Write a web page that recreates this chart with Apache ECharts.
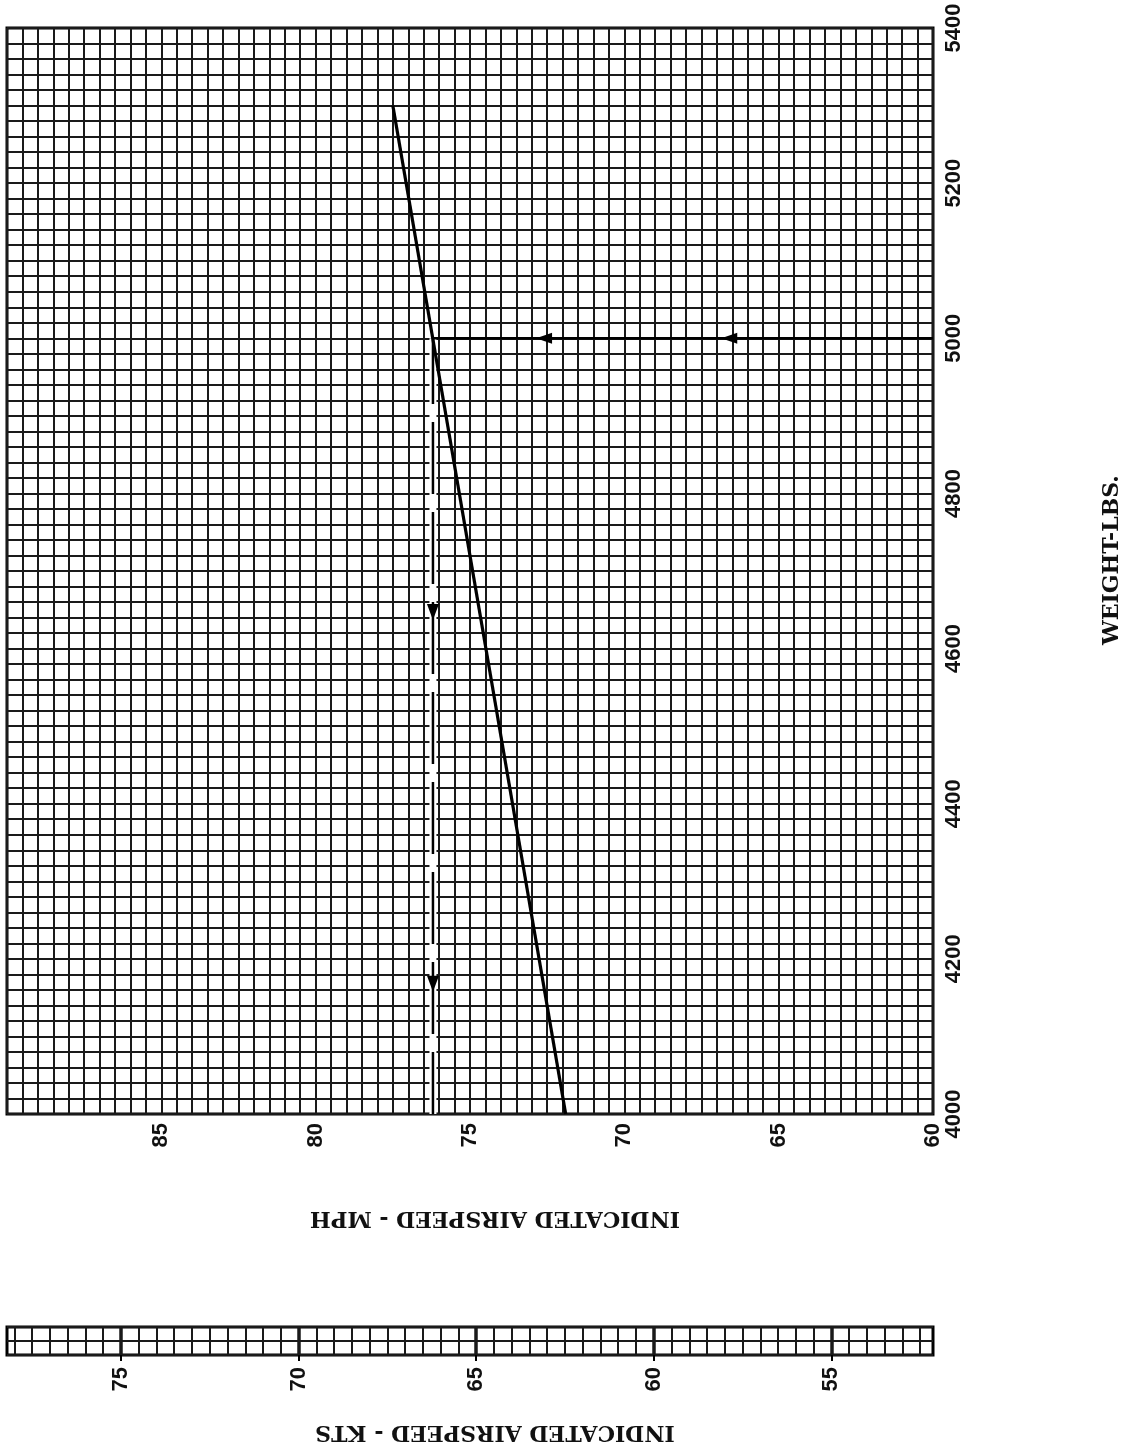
<!DOCTYPE html>
<html>
<head>
<meta charset="utf-8">
<script src="https://cdn.jsdelivr.net/npm/echarts@6/dist/echarts.min.js"></script>
<style>
  html, body { margin: 0; padding: 0; background: #fff; }
  #chart { width: 1129px; height: 1455px; }
</style>
</head>
<body>
<div id="chart"></div>
<script>
// 坐标范围
const mphRange = [60, 90];
const weightRange = [4000, 5400];
const MPH_PER_KT = 1.15078;

// 性能曲线 (weight lbs -> indicated airspeed mph)
const curveWeight = [4000, 5300];
const curveMph = [71.9, 77.5];

// 示例路径
const exampleWeight = 5000;
const exampleMph = 76.2;
const leftArrowMph = [66.6, 72.6];
const downArrowWeight = [4647, 4168];

// KTS 副刻度
const ktsLabels = [55, 60, 65, 70, 75];
const ktsMajor = [55, 60, 65, 70, 75];

const ktsMin = mphRange[0] / MPH_PER_KT;
const ktsMax = mphRange[1] / MPH_PER_KT;
const ktsCells = [];
for (let k = Math.ceil(ktsMin * 2) / 2; k < ktsMax; k += 0.5) ktsCells.push(k);

const numFont = { fontFamily: 'Liberation Sans', fontWeight: 'bold', fontSize: 22, color: '#111' };
const titleFont = 'bold 22px "DejaVu Serif"';
const gridLine = { color: '#1a1a1a', width: 2 };

const chart = echarts.init(document.getElementById('chart'));

chart.setOption({
  animation: false,
  backgroundColor: '#fff',
  grid: [
    { left: 7, right: 196, top: 28, bottom: 341, show: true, borderColor: '#000', borderWidth: 3 },
    { left: 7, right: 196, top: 1327, height: 28, show: true, borderColor: '#000', borderWidth: 3 }
  ],
  xAxis: [
    {
      gridIndex: 0, type: 'value', min: mphRange[0], max: mphRange[1], interval: 5, inverse: true,
      axisLine: { show: false }, axisTick: { show: false },
      axisLabel: Object.assign({ rotate: 90, margin: 9, formatter: v => (v < 90 ? String(v) : '') }, numFont),
      splitLine: { show: true, lineStyle: gridLine },
      minorTick: { show: false, splitNumber: 10 },
      minorSplitLine: { show: true, lineStyle: gridLine }
    },
    {
      gridIndex: 1, type: 'value', min: ktsMin, max: ktsMax, inverse: true,
      axisLine: { show: false },
      axisTick: { show: true, customValues: ktsLabels, length: 6, lineStyle: { color: '#000', width: 2 } },
      axisLabel: Object.assign({ rotate: 90, margin: 12, customValues: ktsLabels, formatter: v => String(v) }, numFont),
      splitLine: { show: false }
    }
  ],
  yAxis: [
    {
      gridIndex: 0, type: 'value', position: 'right', min: weightRange[0], max: weightRange[1], interval: 200,
      axisLine: { show: false }, axisTick: { show: false },
      axisLabel: Object.assign({ rotate: 90, margin: 10, formatter: v => String(v) }, numFont),
      splitLine: { show: true, lineStyle: gridLine },
      minorTick: { show: false, splitNumber: 10 },
      minorSplitLine: { show: true, lineStyle: gridLine }
    },
    {
      gridIndex: 1, type: 'value', min: 0, max: 2, interval: 1,
      axisLine: { show: false }, axisTick: { show: false }, axisLabel: { show: false },
      splitLine: { show: true, lineStyle: gridLine }
    }
  ],
  series: [
    // 虚线下的白色衬底
    {
      type: 'line', xAxisIndex: 0, yAxisIndex: 0, showSymbol: false, silent: true, z: 1,
      data: [[exampleMph, weightRange[0]], [exampleMph, exampleWeight]],
      lineStyle: { color: '#fff', width: 7 }
    },
    {
      type: 'line', xAxisIndex: 0, yAxisIndex: 0, showSymbol: false, silent: true, z: 3,
      data: [[exampleMph, weightRange[0]], [exampleMph, exampleWeight]],
      lineStyle: { color: '#000', width: 2.5, type: [72, 18], dashOffset: 10 }
    },
    {
      type: 'line', xAxisIndex: 0, yAxisIndex: 0, showSymbol: false, silent: true, z: 3,
      data: [[mphRange[0], exampleWeight], [exampleMph, exampleWeight]],
      lineStyle: { color: '#000', width: 2.5 }
    },
    {
      type: 'line', xAxisIndex: 0, yAxisIndex: 0, showSymbol: false, silent: true, z: 4,
      data: curveWeight.map((w, i) => [curveMph[i], w]),
      lineStyle: { color: '#000', width: 3.2 }
    },
    {
      type: 'scatter', xAxisIndex: 0, yAxisIndex: 0, silent: true, z: 6,
      symbol: 'triangle', symbolSize: [11, 16], symbolRotate: 90,
      itemStyle: { color: '#000', opacity: 1 },
      data: leftArrowMph.map(m => [m, exampleWeight])
    },
    {
      type: 'scatter', xAxisIndex: 0, yAxisIndex: 0, silent: true, z: 6,
      symbol: 'triangle', symbolSize: [12, 16], symbolRotate: 180,
      itemStyle: { color: '#000', opacity: 1 },
      data: downArrowWeight.map(w => [exampleMph, w])
    },
    // KTS 刻度条格线
    {
      type: 'line', xAxisIndex: 1, yAxisIndex: 1, showSymbol: false, silent: true,
      data: [[ktsMin, 0]], lineStyle: { opacity: 0 },
      markLine: {
        silent: true, symbol: ['none', 'none'], label: { show: false },
        lineStyle: { color: '#1a1a1a', width: 2, type: 'solid' },
        data: ktsCells.map(k => ({ xAxis: k, lineStyle: ktsMajor.includes(k) ? { width: 3.5 } : {} }))
      }
    }
  ],
  graphic: [
    {
      type: 'text', x: 495, y: 1218, rotation: Math.PI, silent: true,
      style: { text: 'INDICATED AIRSPEED - MPH', font: titleFont, fill: '#111', align: 'center', verticalAlign: 'middle' }
    },
    {
      type: 'text', x: 495, y: 1432, rotation: Math.PI, silent: true,
      style: { text: 'INDICATED AIRSPEED - KTS', font: titleFont, fill: '#111', align: 'center', verticalAlign: 'middle' }
    },
    {
      type: 'text', x: 1112, y: 560, rotation: Math.PI / 2, silent: true,
      style: { text: 'WEIGHT-LBS.', font: titleFont, fill: '#111', align: 'center', verticalAlign: 'middle' }
    }
  ]
});
</script>
</body>
</html>
